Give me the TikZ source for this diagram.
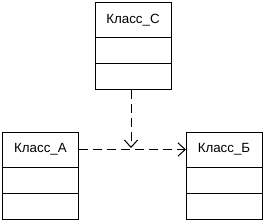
\documentclass[tikz,border=0pt]{standalone}
\usepackage{fontspec}
\setmainfont{Liberation Sans}
\usetikzlibrary{positioning,arrows.meta}
\tikzset{
  head/.style={draw, line width=0.75pt, minimum width=57pt, minimum height=26.25pt, inner sep=0pt, outer sep=0pt, font=\fontsize{10}{12}\selectfont},
  part/.style={draw, line width=0.75pt, minimum width=57pt, minimum height=19.5pt, inner sep=0pt, outer sep=0pt},
  dep/.style={line width=0.75pt, dash pattern=on 7pt off 3.5pt, -{Straight Barb[length=5.5pt,width=10pt]}}
}
\begin{document}
\begin{tikzpicture}[x=0.75pt,y=-0.75pt]
\useasboundingbox (0,0) rectangle (266,222);
% class C
\node[head] (c) at (133,20) {Класс\_С};
\node[part, below=0pt of c] (c1) {};
\node[part, below=0pt of c1] (c2) {};
% class A
\node[head] (a) at (40.5,149.5) {Класс\_А};
\node[part, below=0pt of a] (a1) {};
\node[part, below=0pt of a1] (a2) {};
% class B
\node[head] (b) at (224,149.5) {Класс\_Б};
\node[part, below=0pt of b] (b1) {};
\node[part, below=0pt of b1] (b2) {};
% dependencies
\coordinate (m) at (131,148);
\draw[dep] (a.east) -- (b.west);
\draw[dep] (c2.south -| m) -- (m);
\end{tikzpicture}
\end{document}
